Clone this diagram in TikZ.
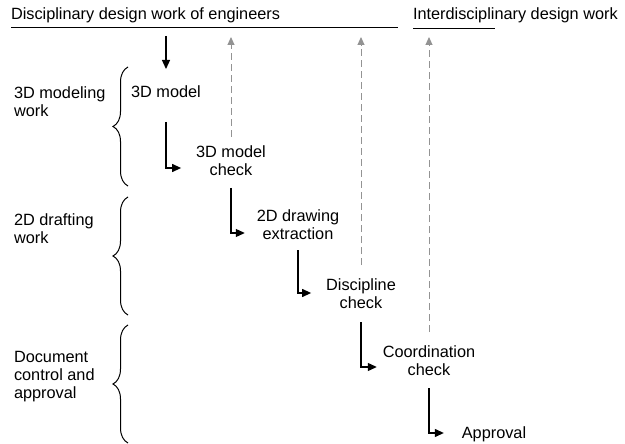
\documentclass[tikz,border=0pt]{standalone}
\usepackage{fontspec}
\setmainfont{Liberation Sans}
\usetikzlibrary{arrows.meta,decorations.pathreplacing}
\begin{document}
\begin{tikzpicture}[x=1pt,y=-1pt,
  every node/.style={inner sep=0pt,outer sep=0pt,font=\fontsize{16.3}{18}\selectfont},
  txt/.style={align=center,anchor=north},
  lab/.style={align=left,anchor=north west},
  ttl/.style={anchor=base west},
  flow/.style={line width=1.2pt,black,-{Triangle[length=9pt,width=8pt]}},
  feedback/.style={line width=1pt,gray!85,dash pattern=on 7pt off 4pt,-{Triangle[length=8pt,width=7pt]}},
  rule/.style={line width=1pt,black},
  bracestyle/.style={line width=1pt,decorate,decoration={brace,amplitude=15pt}}]
\useasboundingbox (0,0) rectangle (625,444);

% titles
\node[ttl] (t1) at (11,20) {Disciplinary design work of engineers};
\node[ttl] (t2) at (413,20) {Interdisciplinary design work};
\draw[rule] (t1.base west |- 0,28) -- (398,28);
\draw[rule] (t2.base west |- 0,29) -- (495,29);

% left labels
\node[lab] (l1) at (14,87) {3D modeling\\work};
\node[lab] (l2) at (14,214) {2D drafting\\work};
\node[lab] (l3) at (14,351) {Document\\control and\\approval};

% braces
\draw[bracestyle] (128,186) -- (128,67);
\draw[bracestyle] (128,315) -- (128,197);
\draw[bracestyle] (128,443) -- (128,325);

% steps
\node[txt] (n1) at (166,86) {3D model};
\node[txt] (n2) at (231,146) {3D model\\check};
\node[txt] (n3) at (298,210) {2D drawing\\extraction};
\node[txt] (n4) at (361,279) {Discipline\\check};
\node[txt] (n5) at (429,346) {Coordination\\check};
\node[txt] (n6) at (494,427) {Approval};

% entry arrow
\draw[flow] (n1 |- 0,36) -- (n1 |- 0,69);

% flow arrows
\draw[flow] (n1 |- 0,122) |- ([xshift=-15pt]n2.west |- 0,168);
\draw[flow] (n2 |- 0,188) |- ([xshift=-12pt]n3.west |- 0,233);
\draw[flow] (n3 |- 0,250) |- ([xshift=-15pt]n4.west |- 0,293);
\draw[flow] (n4 |- 0,322) |- ([xshift=-6pt]n5.west |- 0,367);
\draw[flow] (n5 |- 0,388) |- ([xshift=-18pt]n6.west |- 0,433);

% feedback arrows
\draw[feedback] (n2 |- 0,137) -- (n2 |- 0,37);
\draw[feedback] (n4 |- 0,265) -- (n4 |- 0,37);
\draw[feedback] (n5 |- 0,332) -- (n5 |- 0,37);
\end{tikzpicture}
\end{document}
